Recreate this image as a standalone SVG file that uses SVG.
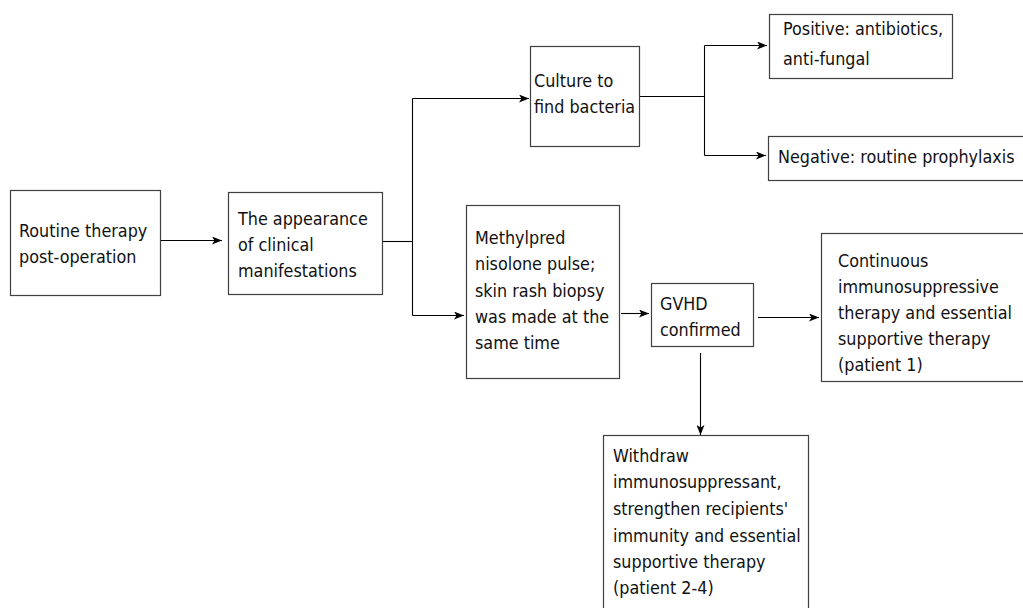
<svg xmlns="http://www.w3.org/2000/svg" width="1023" height="608" viewBox="0 0 1023 608">
<style>
.box{fill:#fff;stroke:#404040;stroke-width:1.2}
.ln{fill:none;stroke:#000;stroke-width:1.1}
.ar{marker-end:url(#ah)}
text{font-family:"DejaVu Sans Condensed","DejaVu Sans",sans-serif;font-stretch:condensed;font-size:17.8px;fill:#111}
</style>
<defs>
<marker id="ah" viewBox="0 0 10 8" refX="10" refY="4" markerWidth="10" markerHeight="8" markerUnits="userSpaceOnUse" orient="auto">
<path d="M0,0 L10,4 L0,8 L2.5,4 z" fill="#000"/>
</marker>
</defs>
<rect width="1023" height="608" fill="#fff"/>
<g id="connectors">
<path class="ln ar" d="M161,240.5 H222"/>
<path class="ln" d="M382,241.5 H412.5"/>
<path class="ln" d="M412.5,98.5 V315.5"/>
<path class="ln ar" d="M412.5,98.5 H529"/>
<path class="ln ar" d="M412.5,315.5 H464"/>
<path class="ln" d="M639,96.5 H704.5"/>
<path class="ln" d="M704.5,45.5 V155.5"/>
<path class="ln ar" d="M704.5,45.5 H767"/>
<path class="ln ar" d="M704.5,155.5 H766"/>
<path class="ln ar" d="M621,313.5 H649"/>
<path class="ln ar" d="M758,317.5 H819"/>
<path class="ln ar" d="M700.5,353 V435"/>
</g>
<g id="n1"><rect class="box" x="10.5" y="190.5" width="150" height="105"/>
<text x="19" y="237">Routine therapy</text><text x="19" y="263">post-operation</text></g>
<g id="n2"><rect class="box" x="228.5" y="192.5" width="154" height="102"/>
<text x="238" y="225">The appearance</text><text x="238" y="251">of clinical</text><text x="238" y="277">manifestations</text></g>
<g id="n3"><rect class="box" x="530.5" y="46.5" width="109" height="100"/>
<text x="534" y="87">Culture to</text><text x="534" y="113">find bacteria</text></g>
<g id="n4"><rect class="box" x="769.5" y="14.5" width="183" height="64"/>
<text x="783" y="35">Positive: antibiotics,</text><text x="783" y="65">anti-fungal</text></g>
<g id="n5"><rect class="box" x="768.5" y="136.5" width="260" height="44"/>
<text x="778" y="163">Negative: routine prophylaxis</text></g>
<g id="n6"><rect class="box" x="466.5" y="205.5" width="153" height="173"/>
<text x="475" y="244">Methylpred</text><text x="475" y="270">nisolone pulse;</text><text x="475" y="297">skin rash biopsy</text><text x="475" y="323">was made at the</text><text x="475" y="349">same time</text></g>
<g id="n7"><rect class="box" x="651.5" y="283.5" width="102" height="63"/>
<text x="660" y="310">GVHD</text><text x="660" y="336">confirmed</text></g>
<g id="n8"><rect class="box" x="821.5" y="233.5" width="210" height="148"/>
<text x="838" y="267">Continuous</text><text x="838" y="293">immunosuppressive</text><text x="838" y="319">therapy and essential</text><text x="838" y="345">supportive therapy</text><text x="838" y="371">(patient 1)</text></g>
<g id="n9"><rect class="box" x="603.5" y="435.5" width="205" height="185"/>
<text x="613" y="462">Withdraw</text><text x="613" y="488">immunosuppressant,</text><text x="613" y="515">strengthen recipients'</text><text x="613" y="542">immunity and essential</text><text x="613" y="568">supportive therapy</text><text x="613" y="594">(patient 2-4)</text></g>
</svg>
